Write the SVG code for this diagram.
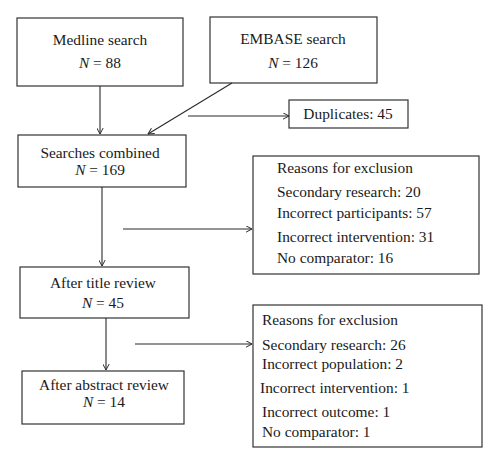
<svg xmlns="http://www.w3.org/2000/svg" width="500" height="465" viewBox="0 0 500 465">
<defs>
<marker id="ah" viewBox="0 0 10 10" refX="9.5" refY="5" markerWidth="7" markerHeight="7" markerUnits="userSpaceOnUse" orient="auto">
<path d="M1,0.5 L9.5,5 L1,9.5" fill="none" stroke="#2a2a2a" stroke-width="1.4"/>
</marker>
</defs>
<style>
rect{fill:#ffffff;stroke:#333333;stroke-width:1.2}
text{font-family:"Liberation Serif","Times New Roman",serif;font-size:15.4px;fill:#1a1a1a}
.c{text-anchor:middle}
.n{font-style:italic}
#connectors line{stroke:#2a2a2a;stroke-width:1.1;marker-end:url(#ah)}
</style>
<rect x="0" y="0" width="500" height="465" style="fill:#ffffff;stroke:none"/>
<g id="medline">
<rect x="17" y="18" width="166" height="68"/>
<text class="c" x="100" y="45">Medline search</text>
<text class="c" x="100" y="68"><tspan class="n">N</tspan> = 88</text>
</g>
<g id="embase">
<rect x="210" y="17" width="167" height="66"/>
<text class="c" x="293" y="44">EMBASE search</text>
<text class="c" x="293" y="68"><tspan class="n">N</tspan> = 126</text>
</g>
<g id="duplicates">
<rect x="289" y="100" width="119" height="28"/>
<text class="c" x="348" y="119">Duplicates: 45</text>
</g>
<g id="combined">
<rect x="18" y="135" width="168" height="52"/>
<text class="c" x="100" y="158">Searches combined</text>
<text class="c" x="100" y="175"><tspan class="n">N</tspan> = 169</text>
</g>
<g id="exclusion1">
<rect x="253" y="156" width="226" height="118"/>
<text x="277" y="173">Reasons for exclusion</text>
<text x="277" y="197">Secondary research: 20</text>
<text x="277" y="218">Incorrect participants: 57</text>
<text x="277" y="242">Incorrect intervention: 31</text>
<text x="277" y="263">No comparator: 16</text>
</g>
<g id="title">
<rect x="20" y="267" width="169" height="51"/>
<text class="c" x="103" y="288">After title review</text>
<text class="c" x="103" y="308"><tspan class="n">N</tspan> = 45</text>
</g>
<g id="exclusion2">
<rect x="253" y="305" width="229" height="142"/>
<text x="262" y="325">Reasons for exclusion</text>
<text x="262" y="350">Secondary research: 26</text>
<text x="262" y="369">Incorrect population: 2</text>
<text x="260" y="393">Incorrect intervention: 1</text>
<text x="262" y="417">Incorrect outcome: 1</text>
<text x="262" y="437">No comparator: 1</text>
</g>
<g id="abstract">
<rect x="22" y="371" width="162" height="53"/>
<text class="c" x="104" y="390">After abstract review</text>
<text class="c" x="104" y="407"><tspan class="n">N</tspan> = 14</text>
</g>
<g id="connectors">
<line x1="100" y1="86" x2="100" y2="134"/>
<line x1="232" y1="83" x2="148" y2="134"/>
<line x1="188" y1="116" x2="289" y2="116"/>
<line x1="102" y1="187" x2="102" y2="266"/>
<line x1="123" y1="229" x2="252" y2="229"/>
<line x1="106" y1="318" x2="106" y2="370"/>
<line x1="135" y1="344" x2="252" y2="344"/>
</g>
</svg>
